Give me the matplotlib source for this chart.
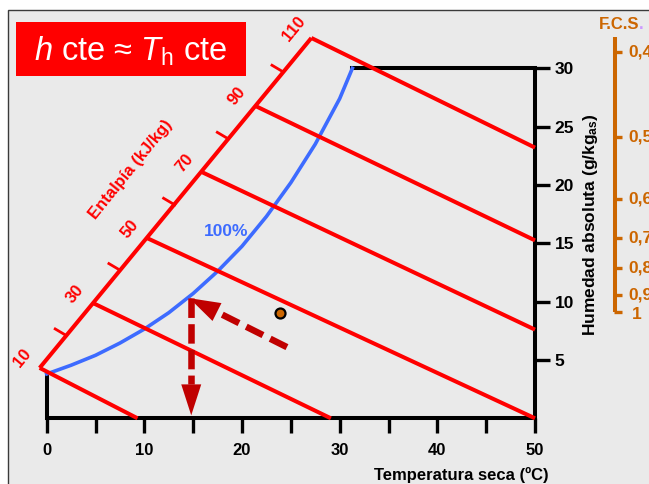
import matplotlib
matplotlib.use('Agg')
import matplotlib.pyplot as plt
import numpy as np
from matplotlib.patches import Rectangle, Polygon

plt.rcParams['font.family'] = ['Liberation Sans', 'DejaVu Sans']
plt.rcParams['mathtext.fontset'] = 'custom'
plt.rcParams['mathtext.rm'] = 'Liberation Sans'
plt.rcParams['mathtext.it'] = 'Liberation Sans:italic'
plt.rcParams['mathtext.bf'] = 'Liberation Sans:bold'
plt.rcParams['lines.scale_dashes'] = False

# ---------------- data ----------------
# saturation curve (100 % relative humidity)
sat_T = [0, 2.5, 5, 7.5, 10, 12.5, 15, 17.5, 20, 22.5, 25, 27.5, 30, 31.3]
sat_w = [3.8, 4.55, 5.4, 6.45, 7.65, 9.05, 10.7, 12.6, 14.75, 17.3, 20.2, 23.5, 27.4, 30.0]

# constant enthalpy lines (kJ/kg): start on the enthalpy scale, end on the axes
enth_values = [10, 30, 50, 70, 90, 110]
enth_start_T = [-0.72, 4.74, 10.27, 15.9, 21.3, 27.1]
enth_start_w = [4.32, 9.88, 15.45, 21.1, 26.8, 32.6]
enth_end_T = [9.3, 29.1, 50, 50, 50, 50]
enth_end_w = [0, 0, 0, 7.6, 15.25, 23.2]
# minor ticks on the enthalpy scale (20, 40, 60, 80, 100)
enth_minor_T = [2.0, 7.5, 13.1, 18.6, 24.2]
enth_minor_w = [7.1, 12.7, 18.3, 23.95, 29.7]

# axes ticks
x_ticks = [0, 5, 10, 15, 20, 25, 30, 35, 40, 45, 50]
x_tick_labels = ['0', '', '10', '', '20', '', '30', '', '40', '', '50']
y_ticks = [5, 10, 15, 20, 25, 30]
y_tick_labels = ['5', '10', '15', '20', '25', '30']

# F.C.S. scale (value, equivalent humidity position)
fcs_labels = ['0,4', '0,5', '0,6', '0,7', '0,8', '0,9', '1']
fcs_w = [31.4, 24.1, 18.8, 15.45, 12.9, 10.6, 9.1]
fcs_top_w = 32.7

# state point and arrows
point_T, point_w = 23.9, 9.0
arrow_diag = (24.6, 6.1, 14.6, 10.3)
arrow_vert = (14.8, 10.3, 14.8, 0.25)

# ---------------- styles ----------------
RED = '#FF0000'
DARKRED = '#C00000'
BLUE = '#3D6BFF'
ORANGE = '#CC6600'
W, H = 649, 484

fig = plt.figure(figsize=(W / 100, H / 100), dpi=100)
fig.patch.set_facecolor('white')
bg = Rectangle((8 / W, -0.1), 1.2, 1 - 10 / H + 0.1, transform=fig.transFigure,
               facecolor='#EAEAEA', edgecolor='#3a3a3a', lw=1.0, zorder=-5)
fig.patches.append(bg)

ax = fig.add_axes([46.7 / W, 1 - 418.3 / H, (535 - 46.7) / W, (418.3 - 68.3) / H])
ax.set_zorder(2)
ax.set_facecolor('none')
ax.set_xlim(0, 50)
ax.set_ylim(0, 30)
for s in ax.spines.values():
    s.set_visible(False)

# frame
ax.plot([31.3, 50, 50, 0, 0], [30, 30, 0, 0, 3.8], color='black', lw=2.9,
        solid_joinstyle='miter', solid_capstyle='projecting', clip_on=False, zorder=2)

ax.set_xticks(x_ticks)
ax.set_xticklabels(x_tick_labels, fontsize=12, fontweight='bold')
ax.yaxis.tick_right()
ax.set_yticks(y_ticks)
ax.set_yticklabels(y_tick_labels, fontsize=12.5, fontweight='bold')
ax.tick_params(axis='x', direction='out', length=10.8, width=2.4, pad=7, color='black')
ax.tick_params(axis='y', direction='out', length=10.8, width=2.4, pad=3.5, color='black')

# saturation curve
ax.plot(sat_T, sat_w, color=BLUE, lw=2.6, clip_on=False, zorder=3)
ax.text(18.4, 16.0, '100%', color=BLUE, fontsize=12.5, fontweight='bold', ha='center', va='center')

# enthalpy lines
for T0, w0, T1, w1 in zip(enth_start_T, enth_start_w, enth_end_T, enth_end_w):
    ax.plot([T0, T1], [w0, w1], color=RED, lw=2.9, solid_capstyle='butt', clip_on=False, zorder=4)
# enthalpy scale
ax.plot([enth_start_T[0], enth_start_T[-1]], [enth_start_w[0], enth_start_w[-1]], color=RED,
        lw=2.9, solid_capstyle='butt', clip_on=False, zorder=4)
for T0, w0 in zip(enth_minor_T, enth_minor_w):
    ax.plot([T0, T0 - 1.13], [w0, w0 + 0.56], color=RED, lw=2.0, clip_on=False, zorder=4)
for v, T0, w0 in zip(enth_values, enth_start_T, enth_start_w):
    ax.annotate(str(v), (T0, w0), xytext=(-12.6, 6.8), textcoords='offset points',
                color=RED, fontsize=12, fontweight='bold', rotation=50.5,
                ha='center', va='center', rotation_mode='anchor', annotation_clip=False)
fig.text(131 / W, 1 - 170 / H, 'Entalpía (kJ/kg)', color=RED, fontsize=12, fontweight='bold',
         rotation=51, ha='center', va='center', rotation_mode='anchor')


def dashed_arrow(x0, y0, x1, y1, color, lw, dash, head_len, head_w):
    tr = ax.transData
    p0 = tr.transform((x0, y0))
    p1 = tr.transform((x1, y1))
    d = p1 - p0
    u = d / np.hypot(*d)
    base = p1 - u * head_len
    bd = tr.inverted().transform(base)
    ax.plot([x0, bd[0]], [y0, bd[1]], color=color, lw=lw, linestyle=(0, dash),
            dash_capstyle='butt', solid_capstyle='butt', clip_on=False, zorder=5)
    perp = np.array([-u[1], u[0]])
    tri = np.array([p1, base + perp * head_w / 2, base - perp * head_w / 2])
    ax.add_patch(Polygon(tr.inverted().transform(tri), closed=True, facecolor=color,
                         edgecolor='none', clip_on=False, zorder=5))


dashed_arrow(*arrow_vert, DARKRED, 4.7, (14, 4.5), 31, 20)
dashed_arrow(*arrow_diag, DARKRED, 4.7, (13.5, 5.8), 31, 20)

ax.plot(point_T, point_w, 'o', ms=7.2, mfc=ORANGE, mec='black', mew=1.6, zorder=6)

# axis labels
fig.text(549 / W, 1 - 480 / H, 'Temperatura seca (ºC)', fontsize=12, fontweight='bold',
         ha='right', va='baseline')
fig.text(591 / W, 1 - 224.5 / H, r'Humedad absoluta (g/kg$_{\mathbf{as}}$)', fontsize=12.5,
         fontweight='bold', rotation=90, ha='center', va='center')

# F.C.S. scale
x_fcs = (614.5 - 46.7) / 9.766
ax.plot([x_fcs, x_fcs], [fcs_w[-1], fcs_top_w], color=ORANGE, lw=2.9, solid_capstyle='butt',
        clip_on=False, zorder=3)
for lab, w in zip(fcs_labels, fcs_w):
    ax.plot([x_fcs - 0.1, x_fcs + 0.77], [w, w], color=ORANGE, lw=2.4, solid_capstyle='butt',
            clip_on=False, zorder=3)
    if lab == '1':
        ax.text(x_fcs + 2.3, w - 0.2, lab, color=ORANGE, fontsize=12.5, fontweight='bold',
                ha='center', va='center', clip_on=False)
    else:
        ax.text(x_fcs + 1.38, w, lab, color=ORANGE, fontsize=12.5, fontweight='bold',
                ha='left', va='center', clip_on=False)
fig.text(639 / W, 1 - 29 / H, 'F.C.S', color=ORANGE, fontsize=12, fontweight='bold',
         ha='right', va='baseline')
fig.text(639 / W, 1 - 29 / H, '.', color='#CC99FF', fontsize=12, fontweight='bold',
         ha='left', va='baseline')

# title box
fig.patches.append(Rectangle((16 / W, 1 - 76 / H), 230 / W, 54 / H, transform=fig.transFigure,
                             facecolor=RED, edgecolor='none', zorder=1))
fig.text(131 / W, 1 - 61 / H, r'$\mathit{h}$ cte ≈ $\mathit{T}_{\mathrm{h}}$ cte', color='white',
         fontsize=23.5, ha='center', va='baseline', zorder=3)

fig.savefig('out.png', dpi=100)
